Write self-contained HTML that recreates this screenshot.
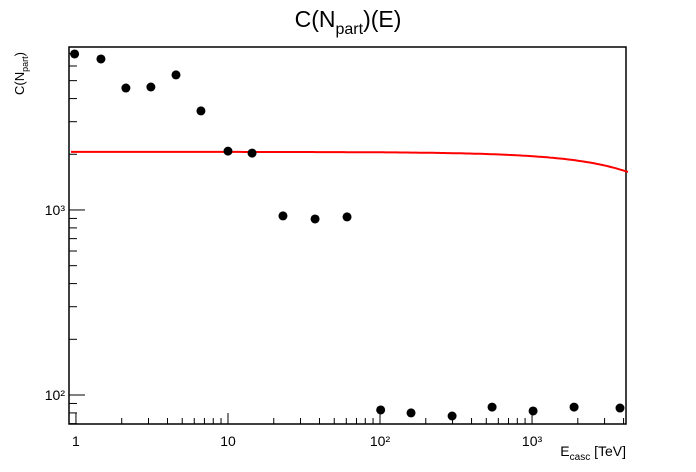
<!DOCTYPE html>
<html><head><meta charset="utf-8"><style>
html,body{margin:0;padding:0;background:#fff}
svg{display:block;font-family:"Liberation Sans",Arial,sans-serif}
</style></head><body>
<svg id="chart" width="696" height="472">
<rect width="696" height="472" fill="#fff"/>
<text x="348" y="27" text-anchor="middle" font-size="23">C(N<tspan font-size="16" dy="7">part</tspan><tspan dy="-7">)(E)</tspan></text>
<text transform="translate(24,95) rotate(-90)" font-size="13">C(N<tspan font-size="9" dy="4">part</tspan><tspan dy="-4">)</tspan></text>
<text x="626" y="456" text-anchor="end" font-size="14">E<tspan font-size="10" dy="4">casc</tspan><tspan dy="-4"> [TeV]</tspan></text>
<g id="axes"></g>
<g id="fit"></g>
<g id="pts"></g>
</svg>
<script>
const energies=[0.98,1.46,2.13,3.11,4.55,6.64,10,14.4,23,37.4,60.7,101,160,298,546,1016,1890,3790];
const counts=[6970,6550,4560,4620,5370,3430,2080,2030,929,894,917,83,80,77,86,82,86,85];
const fitParams=[2060,-0.11];
const xTickLabels=["1","10","10²","10³"];
const yTickLabels=["10²","10³"];
const L=69,R=626,T=47,B=424;
const xmin=Math.log10(0.9),xmax=Math.log10(4150),ymin=Math.log10(69.7),ymax=Math.log10(7600);
const X=v=>L+(Math.log10(v)-xmin)/(xmax-xmin)*(R-L);
const Y=v=>B-(Math.log10(v)-ymin)/(ymax-ymin)*(B-T);
const NS="http://www.w3.org/2000/svg";
function mk(tag,at,parent){const e=document.createElementNS(NS,tag);for(const k in at)e.setAttribute(k,at[k]);parent.appendChild(e);return e;}
const ax=document.getElementById('axes');
const frame=mk('rect',{x:L,y:T,width:R-L,height:B-T,fill:'none',stroke:'#000','stroke-width':1.5},ax);


for(let d=0;d<=3;d++){for(let m=1;m<=9;m++){const v=m*Math.pow(10,d);if(v<0.9||v>4150)continue;const x=X(v);const len=m===1?11:6;
const t=mk('line',{x1:x,x2:x,y1:B,y2:B-len,stroke:'#000','stroke-width':1},ax);


if(m===1){const lb=mk('text',{x:x,y:B+22,'text-anchor':'middle','font-size':14},ax);lb.textContent=xTickLabels[d];

}}}
for(let d=1;d<=3;d++){for(let m=1;m<=9;m++){const v=m*Math.pow(10,d);if(v<69.7||v>7600)continue;const y=Y(v);const len=m===1?16:8;
const t=mk('line',{x1:L,x2:L+len,y1:y,y2:y,stroke:'#000','stroke-width':1},ax);


if(m===1){const lb=mk('text',{x:L-4,y:y+5,'text-anchor':'end','font-size':14},ax);lb.textContent=yTickLabels[d-2];

}}}
let dstr='';const N=200;
for(let i=0;i<=N;i++){const lx=xmin+(xmax-xmin)*i/N;const e=Math.pow(10,lx);const c=fitParams[0]+fitParams[1]*e;dstr+=(i?'L':'M')+(L+(R-L)*i/N+2).toFixed(1)+','+Y(c).toFixed(1);}
const fl=mk('path',{d:dstr,fill:'none',stroke:'#f00','stroke-width':2},document.getElementById('fit'));


const pg=document.getElementById('pts');
energies.forEach((e,i)=>{const c=mk('circle',{cx:X(e),cy:Y(counts[i]),r:4.5,fill:'#000'},pg);

});
</script>
</body></html>
